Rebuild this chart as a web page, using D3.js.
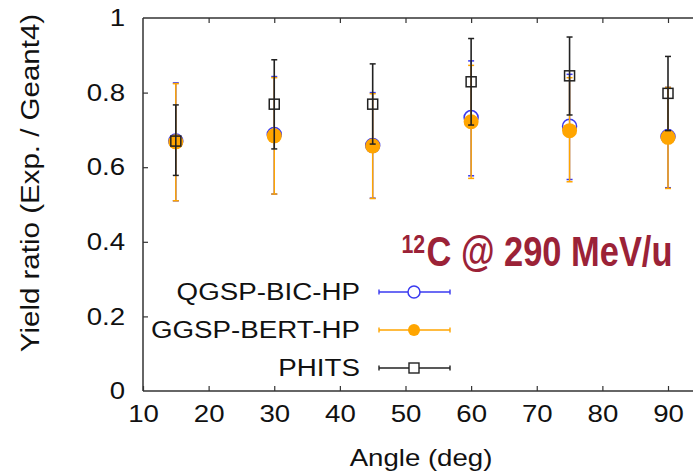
<!DOCTYPE html>
<html>
<head>
<meta charset="utf-8">
<script src="https://cdn.jsdelivr.net/npm/d3@7"></script>
<style>
  html, body { margin: 0; padding: 0; background: #fff; }
  svg { display: block; }
  text { font-family: "Liberation Sans", Arial, sans-serif; fill: #111; }
</style>
</head>
<body>
<svg id="chart" width="693" height="471"></svg>
<script>
// Emission angles (deg)
const angles = [15, 30, 45, 60, 75, 90];

// QGSP-BIC-HP yield ratios with error-bar limits
const qgspValue = [0.670, 0.688, 0.658, 0.733, 0.710, 0.682];
const qgspLow   = [0.510, 0.528, 0.517, 0.577, 0.567, 0.545];
const qgspHigh  = [0.826, 0.843, 0.800, 0.885, 0.849, 0.814];

// GGSP-BERT-HP yield ratios with error-bar limits
const bertValue = [0.668, 0.684, 0.657, 0.722, 0.698, 0.680];
const bertLow   = [0.510, 0.528, 0.516, 0.570, 0.561, 0.543];
const bertHigh  = [0.824, 0.840, 0.797, 0.873, 0.840, 0.814];

// PHITS yield ratios with error-bar limits
const phitsValue = [0.670, 0.769, 0.769, 0.829, 0.845, 0.798];
const phitsLow   = [0.578, 0.649, 0.662, 0.713, 0.740, 0.698];
const phitsHigh  = [0.767, 0.888, 0.877, 0.945, 0.949, 0.897];

const xTicks = [10, 20, 30, 40, 50, 60, 70, 80, 90];
const yTicks = [0, 0.2, 0.4, 0.6, 0.8, 1];
const yTickLabels = ["0", "0.2", "0.4", "0.6", "0.8", "1"];

const seriesNames = ["QGSP-BIC-HP", "GGSP-BERT-HP", "PHITS"];

(function draw() {
const svg = d3.select("#chart");
const W = 693;
const plotLeft = 143, plotTop = 18, plotBottom = 391;
const stretch = 1.15;

const x = d3.scaleLinear().domain([10, 100]).range([plotLeft, plotLeft + 90 * 6.5625]);
const y = d3.scaleLinear().domain([0, 1]).range([plotBottom, plotTop]);

// widen glyphs horizontally, like the stretched plot output
function widen(sel, k) {
  sel.each(function () {
    const w = this.getComputedTextLength();
    this.setAttribute("textLength", w * k);
    this.setAttribute("lengthAdjust", "spacingAndGlyphs");
  });
}

const axisColor = "#333";

// frame: left, bottom and top lines
svg.append("line").attr("x1", plotLeft).attr("x2", plotLeft).attr("y1", plotTop).attr("y2", plotBottom)
  .attr("stroke", axisColor).attr("stroke-width", 1.5);
svg.append("line").attr("x1", plotLeft).attr("x2", W).attr("y1", plotBottom).attr("y2", plotBottom)
  .attr("stroke", axisColor).attr("stroke-width", 1.5);
svg.append("line").attr("x1", plotLeft).attr("x2", W).attr("y1", plotTop).attr("y2", plotTop)
  .attr("stroke", axisColor).attr("stroke-width", 1.5);

// bottom axis with inward ticks
const gx = svg.append("g").attr("transform", `translate(0,${plotBottom})`)
  .call(d3.axisBottom(x).tickValues(xTicks).tickSize(-5).tickPadding(14).tickFormat(d3.format("d")));
gx.select(".domain").remove();
gx.selectAll(".tick line").attr("stroke", axisColor).attr("stroke-width", 1.2);
gx.selectAll(".tick text").attr("font-size", 24).attr("fill", "#111").attr("dy", "0.71em")
  .call(widen, stretch);

// top axis ticks (no labels)
const gt = svg.append("g").attr("transform", `translate(0,${plotTop})`)
  .call(d3.axisTop(x).tickValues(xTicks.slice(1)).tickSize(-5).tickFormat(""));
gt.select(".domain").remove();
gt.selectAll(".tick line").attr("stroke", axisColor).attr("stroke-width", 1.2);

// left axis with inward ticks
const gy = svg.append("g").attr("transform", `translate(${plotLeft},0)`)
  .call(d3.axisLeft(y).tickValues(yTicks).tickSize(-5).tickPadding(18)
    .tickFormat((d, i) => yTickLabels[i]));
gy.select(".domain").remove();
gy.selectAll(".tick line").attr("stroke", axisColor).attr("stroke-width", 1.2)
  .filter(d => d === 0 || d === 1).remove();
gy.selectAll(".tick text").attr("font-size", 24).attr("fill", "#111")
  .call(widen, stretch);

// axis titles
svg.append("text").attr("x", 421).attr("y", 466).attr("text-anchor", "middle")
  .attr("font-size", 24).text("Angle (deg)").call(widen, stretch);
svg.append("text").attr("transform", "translate(39,183) rotate(-90)").attr("text-anchor", "middle")
  .attr("font-size", 25).text("Yield ratio (Exp. / Geant4)").call(widen, 1.18);

// error bars and markers
const plot = svg.append("g");
const cap = 3;

function errorBars(lo, hi, color, width) {
  const g = plot.append("g");
  angles.forEach((a, i) => {
    const cx = x(a);
    g.append("line").attr("x1", cx).attr("x2", cx).attr("y1", y(lo[i])).attr("y2", y(hi[i]))
      .attr("stroke", color).attr("stroke-width", width);
    [lo[i], hi[i]].forEach(v => {
      g.append("line").attr("x1", cx - cap).attr("x2", cx + cap).attr("y1", y(v)).attr("y2", y(v))
        .attr("stroke", color).attr("stroke-width", 1.5);
    });
  });
}

const blue = "#3a3af0", orange = "#ffa500", black = "#222";

errorBars(qgspLow, qgspHigh, blue, 1.3);
plot.append("g").selectAll("circle").data(angles).join("circle")
  .attr("cx", d => x(d)).attr("cy", (d, i) => y(qgspValue[i])).attr("r", 7)
  .attr("fill", "none").attr("stroke", blue).attr("stroke-width", 1.5);

errorBars(bertLow, bertHigh, orange, 1.5);
plot.append("g").selectAll("circle").data(angles).join("circle")
  .attr("cx", d => x(d)).attr("cy", (d, i) => y(bertValue[i])).attr("r", 7.5)
  .attr("fill", orange);

errorBars(phitsLow, phitsHigh, black, 1.6);
const sq = 10;
plot.append("g").selectAll("rect").data(angles).join("rect")
  .attr("x", d => x(d) - sq / 2).attr("y", (d, i) => y(phitsValue[i]) - sq / 2)
  .attr("width", sq).attr("height", sq)
  .attr("fill", "none").attr("stroke", black).attr("stroke-width", 1.5);

// legend
const legend = svg.append("g");
const legY = [292, 330, 368];
const sampleX1 = 379, sampleX2 = 450, sampleMid = 414;
const legColors = [blue, orange, black];
seriesNames.forEach((name, i) => {
  const ly = legY[i];
  legend.append("text").attr("x", 360).attr("y", ly).attr("dy", "0.36em")
    .attr("text-anchor", "end").attr("font-size", 23.5).text(name).call(widen, 1.18);
  legend.append("line").attr("x1", sampleX1).attr("x2", sampleX2).attr("y1", ly).attr("y2", ly)
    .attr("stroke", legColors[i]).attr("stroke-width", 1.4);
  [sampleX1, sampleX2].forEach(px => {
    legend.append("line").attr("x1", px).attr("x2", px).attr("y1", ly - 2.5).attr("y2", ly + 2.5)
      .attr("stroke", legColors[i]).attr("stroke-width", 1.4);
  });
});
legend.append("circle").attr("cx", sampleMid).attr("cy", legY[0]).attr("r", 6)
  .attr("fill", "#fff").attr("stroke", blue).attr("stroke-width", 1.5);
legend.append("circle").attr("cx", sampleMid).attr("cy", legY[1]).attr("r", 6)
  .attr("fill", orange);
legend.append("rect").attr("x", sampleMid - 5).attr("y", legY[2] - 5).attr("width", 10).attr("height", 10)
  .attr("fill", "#fff").attr("stroke", black).attr("stroke-width", 1.4);

// beam label in a condensed bold face: mass number raised before the symbol
const beamColor = "#9b2237";
const beam = svg.append("g").attr("transform", "translate(401.5,266) scale(0.82,1)")
  .style("font-weight", "bold");
beam.append("text").attr("x", 0).attr("y", -13)
  .attr("font-size", 26).style("fill", beamColor).text("12");
beam.append("text").attr("x", 30.5).attr("y", 0)
  .attr("font-size", 42).style("fill", beamColor).text("C @ 290 MeV/u");
})();
</script>
</body>
</html>
